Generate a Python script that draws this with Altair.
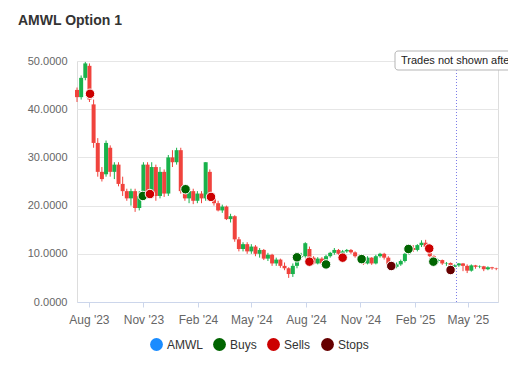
import altair as alt
import pandas as pd

FONT = "Liberation Sans, Arial, sans-serif"
GREEN = "#19b24b"
RED = "#f0433d"

# Weekly candles (start 2023-07-12)
opens = [44, 42.5, 46.5, 49, 41, 33, 27, 26.5, 32, 27,
         28.5, 24.5, 23, 21.5, 23, 19.5, 22, 28.5, 22.5, 28,
         22, 27, 22.5, 30, 29, 31.5, 23, 21.5, 23, 21,
         22.5, 21.5, 27, 21.5, 20.5, 19, 19.8, 17.2, 17.8, 13,
         11, 12, 10.5, 11.5, 10, 10.8, 9, 9.8, 8, 8.8,
         7.5, 7, 5.8, 7.5, 9.3, 9.5, 11, 9.2, 8, 9,
         8, 9.5, 10.2, 10.8, 10, 10.5, 10.8, 10.3, 9.5, 8.8,
         8, 9.2, 8, 9.5, 10, 9.2, 7.8, 7.3, 7.8, 8.5,
         10, 11.2, 10.8, 11.8, 12.3, 11.4, 9.5, 8.5, 8.7, 8,
         8.1, 7.3, 7.6, 8, 7.5, 6.5, 7.6, 7.3, 7.4, 6.8,
         7.2, 7.0]
closes = [42.5, 46.5, 49.5, 42, 33, 27, 25.5, 33, 27, 28.5,
          24.5, 23, 21.5, 23, 19.5, 22, 28.5, 22.5, 28, 22,
          27, 22.5, 30, 29, 31.5, 23, 21.5, 23, 21, 22.5,
          21.5, 29, 21.5, 20.5, 19, 19.8, 17.2, 17.8, 13, 11,
          12, 10.5, 11.5, 10, 10.8, 9, 9.8, 8, 8.8, 7.5,
          7, 5.8, 7.5, 9.3, 9.5, 12.2, 9.2, 8, 9, 8,
          9.5, 10.2, 10.8, 10, 10.5, 10.8, 10.3, 9.5, 8.8, 8,
          9.2, 8, 9.5, 10, 9.2, 7.8, 7.3, 7.8, 8.5, 10,
          11.2, 10.8, 11.8, 12.3, 11.4, 9.5, 8.5, 8.7, 8, 8.1,
          7.3, 7.6, 8, 7.5, 6.5, 7.6, 7.3, 7.4, 6.8, 7.2,
          7.0, 6.9]
highs = [44.5, 47, 49.8, 49.5, 42, 34, 28, 33.5, 32.5, 29,
         29, 26, 23.5, 23.5, 23.5, 23, 29, 29, 29, 28.5,
         28, 27.5, 30.5, 31.5, 32, 32, 23.5, 23.5, 23.5, 23,
         23, 29, 27.5, 22, 21, 20.2, 20, 18.3, 18, 13.5,
         12.4, 12.4, 12, 11.8, 11.2, 11, 10.2, 10, 9.2, 9,
         8.2, 7.2, 8, 9.8, 10.2, 12.4, 11.5, 9.5, 9.3, 9.3,
         9.8, 10.4, 11.2, 11, 10.8, 11, 11, 10.5, 9.8, 9,
         9.5, 9.3, 9.8, 10.2, 10.2, 9.5, 8.1, 8.2, 8.8, 10.2,
         11.5, 11.8, 12, 12.8, 12.9, 11.5, 9.7, 8.9, 8.8, 8.3,
         8.2, 7.8, 8.1, 8.1, 7.8, 7.8, 7.7, 7.6, 7.5, 7.4,
         7.3, 7.1]
lows = [41.5, 42, 46, 41.5, 32, 26, 25, 26, 26, 25.5,
        24, 22, 21, 20, 18.7, 19, 21.5, 21.5, 22, 21,
        21.5, 21.8, 22, 28, 28.5, 22.5, 21, 20.5, 20.3, 20.5,
        20.5, 21, 21, 20, 18.8, 18.5, 17, 16.5, 12.5, 10.5,
        10.5, 10, 10, 9.5, 9.2, 8.7, 8.5, 7.5, 7.5, 7.1,
        6.6, 5, 5.2, 7, 8.8, 9.2, 8.5, 7.7, 7.8, 7.7,
        7.8, 9.2, 9.8, 9.7, 9.5, 10.2, 10, 9.2, 8.5, 7.7,
        7.8, 7.7, 7.8, 9.2, 8.8, 7.5, 7, 7, 7.5, 8.2,
        9.8, 10.4, 10.5, 11.4, 11, 9.3, 8.3, 8.1, 7.7, 7.5,
        7, 7.1, 7.3, 6.4, 6, 6.3, 6.9, 7, 6.4, 6.6,
        6.7, 6.6]
dates = pd.date_range("2023-07-12", periods=len(opens), freq="7D").strftime("%Y-%m-%dT00:00:00")

trade_dates = ["2023-08-03", "2023-10-31", "2023-11-12", "2024-01-11", "2024-02-23",
               "2024-07-17", "2024-08-07", "2024-09-04", "2024-10-02", "2024-11-03",
               "2024-12-23", "2025-01-21", "2025-02-25", "2025-03-04", "2025-04-02"]
trade_prices = [43.2, 22.0, 22.4, 23.4, 21.8, 9.27, 8.37, 7.8, 9.2, 8.9,
                7.47, 11.0, 11.1, 8.37, 6.64]
trade_types = ["Sells", "Buys", "Sells", "Buys", "Sells", "Buys", "Sells", "Buys",
               "Sells", "Buys", "Stops", "Buys", "Sells", "Buys", "Stops"]

legend_names = ["AMWL", "Buys", "Sells", "Stops"]
legend_colors = ["#1a8cff", "#006400", "#cc0000", "#660000"]

y_ticks = [0, 10, 20, 30, 40, 50]
x_ticks = [(2023, 8), (2023, 11), (2024, 2), (2024, 5), (2024, 8), (2024, 11), (2025, 2), (2025, 5)]

cutoff_date = "2025-04-12T00:00:00"
note_text = "Trades not shown after"
title_text = "AMWL Option 1"

candles = pd.DataFrame({"date": dates, "open": opens, "close": closes, "high": highs, "low": lows})
trades = pd.DataFrame({"date": [d + "T00:00:00" for d in trade_dates], "price": trade_prices, "type": trade_types})
note = pd.DataFrame({"date": [cutoff_date], "text": [note_text], "title": [title_text]})

x_scale = alt.Scale(domain=[alt.DateTime(year=2023, month=7, date=12),
                            alt.DateTime(year=2025, month=6, date=21)], padding=0, nice=False)
x_enc = alt.X("date:T", scale=x_scale,
              axis=alt.Axis(values=[alt.DateTime(year=y, month=m, date=1) for y, m in x_ticks],
                            format="%b '%y", grid=False, domainColor="#ccd6eb",
                            tickColor="#ccd6eb", tickSize=5, labelFontSize=12,
                            labelColor="#666666", labelPadding=7, title=None, labelFont=FONT))
y_scale = alt.Scale(domain=[0, 50], nice=False, padding=0)
y_axis = alt.Axis(values=y_ticks, format=".4f", grid=True, gridColor="#e6e6e6", domain=False,
                  ticks=False, labelFontSize=11, labelColor="#666666", labelPadding=10,
                  title=None, labelFont=FONT)

cond_color = alt.condition("datum.close >= datum.open", alt.value(GREEN), alt.value(RED))

wicks = alt.Chart(candles).mark_rule(strokeWidth=1).encode(
    x=x_enc,
    y=alt.Y("low:Q", scale=y_scale, axis=y_axis),
    y2="high:Q",
    color=cond_color,
)
bodies = alt.Chart(candles).mark_bar(width=4).encode(
    x=x_enc,
    y=alt.Y("open:Q", scale=y_scale, axis=y_axis),
    y2="close:Q",
    color=cond_color,
)
markers = alt.Chart(trades).mark_point(filled=True, shape="circle", size=90, stroke="white",
                                        strokeWidth=1, opacity=1).encode(
    x=alt.X("date:T", scale=x_scale),
    y=alt.Y("price:Q", scale=y_scale),
    color=alt.Color("type:N", scale=alt.Scale(domain=legend_names, range=legend_colors),
                    legend=alt.Legend(title=None, orient="none", legendX=73, legendY=277,
                                      direction="horizontal", symbolType="circle",
                                      symbolSize=165, symbolStrokeWidth=0, labelFontSize=12,
                                      labelColor="#333333", labelFont=FONT, labelOffset=4,
                                      columnPadding=10)),
)
rule = alt.Chart(note).mark_rule(strokeDash=[1, 2], color="#7c7ce8", strokeWidth=1).encode(
    x=alt.X("date:T", scale=x_scale), y=alt.value(9), y2=alt.value(241))
box = alt.Chart(note).mark_rect(fill="white", stroke="#b5b5b5", strokeWidth=1, cornerRadius=3).encode(
    x=alt.value(318), x2=alt.value(470), y=alt.value(-10), y2=alt.value(9))
label = alt.Chart(note).mark_text(align="left", baseline="middle", fontSize=11, color="#222222",
                                  font=FONT).encode(
    x=alt.value(324), y=alt.value(0), text="text:N")
title = alt.Chart(note).mark_text(align="left", baseline="alphabetic", fontSize=14, fontWeight="bold",
                                  color="#333333", font=FONT).encode(
    x=alt.value(-59), y=alt.value(-36), text="title:N")

chart = alt.layer(wicks, bodies, markers, rule, box, label, title).properties(
    width=421, height=241,
    padding={"left": 69, "top": 53, "right": 10, "bottom": 60},
    autosize=alt.AutoSizeParams(type="none"),
).configure_view(stroke=None).configure(font=FONT)

chart.save("out.html", embed_options={"renderer": "svg", "actions": False})
